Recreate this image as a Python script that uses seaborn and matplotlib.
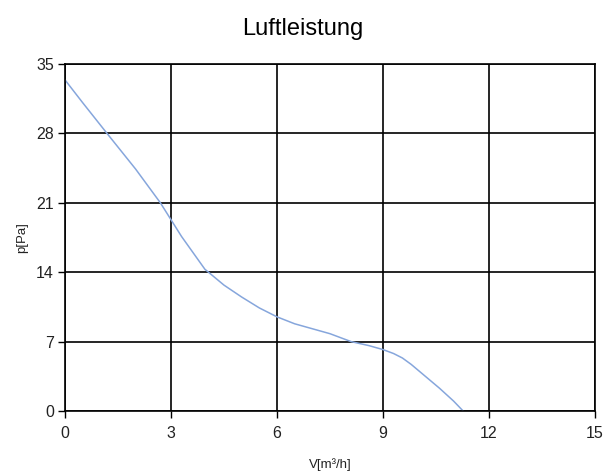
import matplotlib
matplotlib.use("Agg")
import matplotlib.pyplot as plt
import pandas as pd
import seaborn as sns

# Kennlinie
volume = [0.0, 0.5, 1.19, 2.0, 2.7, 3.3, 3.96, 4.5, 5.0, 5.5, 6.0, 6.5, 7.0, 7.5, 8.1, 8.6, 9.0, 9.3, 9.55, 9.8, 10.2, 10.6, 11.0, 11.27]
pressure = [33.4, 31.1, 28.0, 24.4, 21.0, 17.6, 14.3, 12.7, 11.5, 10.4, 9.5, 8.8, 8.3, 7.8, 7.0, 6.6, 6.2, 5.8, 5.35, 4.7, 3.5, 2.3, 1.0, 0.0]
x_ticks = [0, 3, 6, 9, 12, 15]
y_ticks = [0, 7, 14, 21, 28, 35]

df = pd.DataFrame({"V": volume, "p": pressure})

sns.set_theme(style="white")
plt.rcParams["font.family"] = ["Liberation Sans", "DejaVu Sans"]

fig = plt.figure(figsize=(6.05, 4.73), dpi=100)
ax = fig.add_axes([0.1074, 0.131, 0.876, 0.7337])

sns.lineplot(data=df, x="V", y="p", ax=ax, color="#86a6dc", linewidth=1.1)

ax.set_xlim(0, 15)
ax.set_ylim(0, 35)
ax.set_xticks(x_ticks)
ax.set_yticks(y_ticks)
ax.grid(True, color="black", linewidth=1.2)
for s in ax.spines.values():
    s.set_color("black")
    s.set_linewidth(1.2)
ax.tick_params(axis="both", direction="out", length=5, width=1.0, color="black",
               labelsize=11.5, labelcolor="#222222", left=True, bottom=True)
ax.tick_params(axis="x", pad=6)
ax.tick_params(axis="y", pad=3)
ax.set_xlabel("V[m³/h]", fontsize=9.5, color="#222222", labelpad=12)
ax.set_ylabel("p[Pa]", fontsize=9.5, color="#222222", labelpad=6)
fig.suptitle("Luftleistung", fontsize=17, y=0.962, color="black")

fig.savefig("out.png", dpi=100)
plt.close(fig)
